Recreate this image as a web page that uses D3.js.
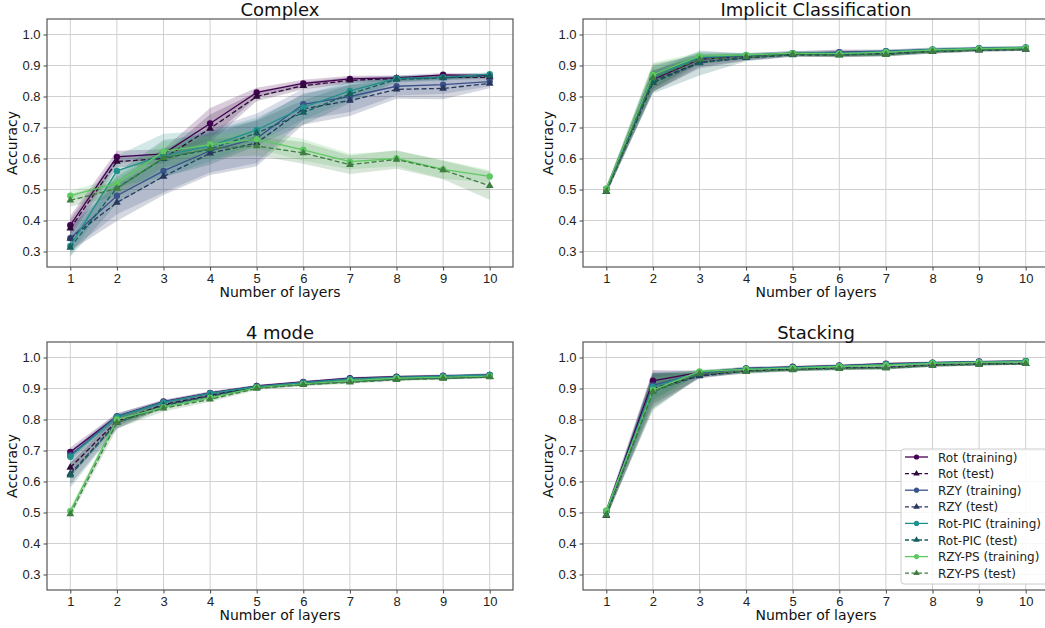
<!DOCTYPE html>
<html>
<head>
  <meta charset="utf-8" />
  <title>Accuracy vs number of layers</title>
  <script type="text/javascript" src="https://cdn.jsdelivr.net/npm/d3@7"></script>
  <style type="text/css">
  body {
    margin: 0;
    background: #fff;
    font-family: "DejaVu Sans", sans-serif;
  }
  .grid line { stroke: #d0d0d0; stroke-width: 1px; }
  .axis text { font-size: 13px; fill: #222; }
  .axis path, .axis line { stroke: #444; }
  .frame { fill: none; stroke: #555; stroke-width: 1.2px; }
  .title { font-size: 18px; fill: #111; }
  .label { font-size: 14px; fill: #111; }
  .legend text { font-size: 12px; fill: #222; }
  </style>
</head>
<body>
  <script type="text/javascript">
    var layers = [1, 2, 3, 4, 5, 6, 7, 8, 9, 10]
    var seriesNames = ['Rot (training)', 'Rot (test)', 'RZY (training)', 'RZY (test)',
      'Rot-PIC (training)', 'Rot-PIC (test)', 'RZY-PS (training)', 'RZY-PS (test)']
    var seriesColors = ['#440154', '#2e0a3a', '#3b528b', '#27375d',
      '#21918c', '#165f5c', '#5ec962', '#3e7f41']
    var yTicks = [0.3, 0.4, 0.5, 0.6, 0.7, 0.8, 0.9, 1.0]

    // mean accuracy, one row per series (same order as seriesNames)
    var complexMean = [
      [0.385, 0.605, 0.615, 0.713, 0.813, 0.842, 0.857, 0.860, 0.870, 0.868],
      [0.375, 0.590, 0.600, 0.697, 0.800, 0.835, 0.852, 0.858, 0.862, 0.862],
      [0.343, 0.480, 0.560, 0.625, 0.665, 0.775, 0.800, 0.833, 0.838, 0.848],
      [0.342, 0.458, 0.542, 0.617, 0.650, 0.760, 0.787, 0.823, 0.826, 0.842],
      [0.318, 0.560, 0.610, 0.640, 0.692, 0.765, 0.818, 0.858, 0.862, 0.872],
      [0.313, 0.505, 0.600, 0.630, 0.682, 0.748, 0.808, 0.855, 0.860, 0.866],
      [0.480, 0.520, 0.623, 0.645, 0.662, 0.628, 0.590, 0.600, 0.565, 0.542],
      [0.465, 0.503, 0.602, 0.632, 0.640, 0.618, 0.580, 0.597, 0.563, 0.512]
    ]
    var complexSd = [
      [0.030, 0.020, 0.015, 0.050, 0.015, 0.012, 0.010, 0.008, 0.006, 0.006],
      [0.030, 0.020, 0.015, 0.045, 0.015, 0.012, 0.010, 0.008, 0.006, 0.006],
      [0.040, 0.060, 0.070, 0.070, 0.080, 0.050, 0.050, 0.030, 0.030, 0.015],
      [0.040, 0.060, 0.060, 0.070, 0.075, 0.050, 0.050, 0.030, 0.035, 0.015],
      [0.030, 0.050, 0.070, 0.050, 0.040, 0.040, 0.030, 0.010, 0.008, 0.006],
      [0.030, 0.050, 0.060, 0.050, 0.040, 0.040, 0.030, 0.010, 0.008, 0.006],
      [0.015, 0.020, 0.030, 0.030, 0.030, 0.035, 0.025, 0.025, 0.030, 0.020],
      [0.020, 0.025, 0.030, 0.030, 0.030, 0.035, 0.030, 0.030, 0.030, 0.045]
    ]

    var implicitMean = [
      [0.500, 0.855, 0.920, 0.930, 0.940, 0.942, 0.945, 0.950, 0.955, 0.957],
      [0.493, 0.845, 0.910, 0.925, 0.935, 0.935, 0.937, 0.945, 0.950, 0.952],
      [0.502, 0.870, 0.925, 0.932, 0.940, 0.943, 0.946, 0.952, 0.956, 0.958],
      [0.493, 0.850, 0.910, 0.925, 0.935, 0.935, 0.937, 0.946, 0.950, 0.952],
      [0.501, 0.860, 0.928, 0.933, 0.940, 0.940, 0.945, 0.951, 0.955, 0.958],
      [0.493, 0.845, 0.908, 0.926, 0.934, 0.934, 0.936, 0.945, 0.950, 0.953],
      [0.503, 0.870, 0.930, 0.934, 0.940, 0.938, 0.943, 0.950, 0.954, 0.957],
      [0.494, 0.860, 0.920, 0.928, 0.936, 0.933, 0.935, 0.945, 0.950, 0.952]
    ]
    var implicitSd = [
      [0.008, 0.030, 0.012, 0.008, 0.006, 0.010, 0.006, 0.006, 0.005, 0.005],
      [0.008, 0.030, 0.015, 0.008, 0.006, 0.008, 0.006, 0.006, 0.005, 0.005],
      [0.008, 0.030, 0.012, 0.008, 0.006, 0.006, 0.006, 0.006, 0.005, 0.005],
      [0.008, 0.035, 0.020, 0.010, 0.006, 0.006, 0.006, 0.006, 0.005, 0.005],
      [0.008, 0.035, 0.015, 0.008, 0.006, 0.006, 0.006, 0.006, 0.005, 0.005],
      [0.008, 0.035, 0.040, 0.012, 0.006, 0.006, 0.006, 0.006, 0.005, 0.005],
      [0.008, 0.040, 0.012, 0.006, 0.006, 0.006, 0.006, 0.006, 0.005, 0.005],
      [0.008, 0.045, 0.015, 0.008, 0.006, 0.006, 0.006, 0.006, 0.005, 0.005]
    ]

    var modeMean = [
      [0.695, 0.810, 0.858, 0.886, 0.908, 0.921, 0.933, 0.938, 0.941, 0.944],
      [0.645, 0.795, 0.848, 0.878, 0.905, 0.916, 0.925, 0.932, 0.935, 0.939],
      [0.685, 0.810, 0.857, 0.885, 0.907, 0.920, 0.932, 0.937, 0.940, 0.944],
      [0.625, 0.790, 0.846, 0.876, 0.904, 0.915, 0.924, 0.931, 0.934, 0.938],
      [0.680, 0.808, 0.855, 0.884, 0.906, 0.919, 0.930, 0.936, 0.940, 0.944],
      [0.620, 0.790, 0.845, 0.875, 0.903, 0.914, 0.923, 0.930, 0.934, 0.938],
      [0.505, 0.800, 0.840, 0.870, 0.903, 0.915, 0.925, 0.933, 0.936, 0.940],
      [0.495, 0.790, 0.836, 0.865, 0.900, 0.912, 0.920, 0.928, 0.932, 0.937]
    ]
    var modeSd = [
      [0.015, 0.010, 0.006, 0.005, 0.004, 0.004, 0.004, 0.004, 0.004, 0.004],
      [0.030, 0.015, 0.008, 0.006, 0.005, 0.005, 0.005, 0.004, 0.004, 0.004],
      [0.015, 0.010, 0.006, 0.005, 0.004, 0.004, 0.004, 0.004, 0.004, 0.004],
      [0.035, 0.018, 0.008, 0.006, 0.005, 0.005, 0.005, 0.004, 0.004, 0.004],
      [0.015, 0.010, 0.006, 0.005, 0.004, 0.004, 0.004, 0.004, 0.004, 0.004],
      [0.040, 0.020, 0.008, 0.006, 0.005, 0.005, 0.005, 0.004, 0.004, 0.004],
      [0.010, 0.012, 0.008, 0.006, 0.005, 0.005, 0.005, 0.004, 0.004, 0.004],
      [0.010, 0.020, 0.010, 0.008, 0.005, 0.005, 0.005, 0.004, 0.004, 0.004]
    ]

    var stackMean = [
      [0.505, 0.925, 0.952, 0.965, 0.970, 0.974, 0.980, 0.983, 0.987, 0.988],
      [0.490, 0.900, 0.942, 0.957, 0.962, 0.966, 0.968, 0.976, 0.979, 0.981],
      [0.503, 0.910, 0.950, 0.964, 0.968, 0.973, 0.978, 0.982, 0.986, 0.988],
      [0.490, 0.895, 0.940, 0.956, 0.961, 0.965, 0.967, 0.975, 0.978, 0.980],
      [0.503, 0.905, 0.953, 0.964, 0.968, 0.973, 0.978, 0.983, 0.986, 0.989],
      [0.491, 0.890, 0.945, 0.955, 0.961, 0.965, 0.966, 0.975, 0.978, 0.981],
      [0.507, 0.895, 0.955, 0.962, 0.966, 0.971, 0.975, 0.981, 0.984, 0.986],
      [0.492, 0.890, 0.948, 0.955, 0.960, 0.964, 0.966, 0.974, 0.978, 0.980]
    ]
    var stackSd = [
      [0.008, 0.035, 0.006, 0.005, 0.004, 0.004, 0.004, 0.004, 0.003, 0.003],
      [0.008, 0.050, 0.008, 0.006, 0.005, 0.005, 0.005, 0.005, 0.004, 0.004],
      [0.008, 0.045, 0.006, 0.005, 0.004, 0.004, 0.004, 0.004, 0.003, 0.003],
      [0.008, 0.055, 0.008, 0.006, 0.005, 0.005, 0.005, 0.005, 0.004, 0.004],
      [0.008, 0.045, 0.006, 0.005, 0.004, 0.004, 0.004, 0.004, 0.003, 0.003],
      [0.008, 0.055, 0.008, 0.006, 0.005, 0.005, 0.005, 0.005, 0.004, 0.004],
      [0.008, 0.040, 0.006, 0.005, 0.004, 0.004, 0.004, 0.004, 0.003, 0.003],
      [0.008, 0.060, 0.010, 0.008, 0.005, 0.005, 0.005, 0.005, 0.004, 0.004]
    ]

    var panels = [
      { title: 'Complex', mean: complexMean, sd: complexSd, left: 47, top: 19 },
      { title: 'Implicit Classification', mean: implicitMean, sd: implicitSd, left: 583, top: 19 },
      { title: '4 mode', mean: modeMean, sd: modeSd, left: 47, top: 342 },
      { title: 'Stacking', mean: stackMean, sd: stackSd, left: 583, top: 342, legend: true }
    ]

    var W = 1045, H = 628,
        pw = 466, ph = 248

    var svg = d3.select(document.body)
      .append('svg')
      .attr('width', W)
      .attr('height', H)

    var x = d3.scaleLinear().domain([0.5, 10.5]).range([0, pw]),
        y = d3.scaleLinear().domain([0.25, 1.05]).range([ph, 0])

    var line = d3.line()
      .x(function(d, i) { return x(layers[i]) })
      .y(function(d) { return y(d) })

    var band = d3.area()
      .x(function(d) { return x(d.l) })
      .y0(function(d) { return y(d.m - d.s) })
      .y1(function(d) { return y(d.m + d.s) })

    var triangle = d3.symbol().type(d3.symbolTriangle).size(26)

    panels.forEach(function(p) {
      var g = svg.append('g')
        .attr('transform', 'translate(' + p.left + ',' + p.top + ')')

      g.append('defs').append('clipPath')
        .attr('id', 'clip-' + p.left + '-' + p.top)
      .append('rect')
        .attr('width', pw).attr('height', ph)

      // grid
      g.append('g').attr('class', 'grid')
        .selectAll('line.v').data(layers)
      .enter().append('line')
        .attr('x1', x).attr('x2', x)
        .attr('y1', 0).attr('y2', ph)
      g.append('g').attr('class', 'grid')
        .selectAll('line.h').data(yTicks)
      .enter().append('line')
        .attr('x1', 0).attr('x2', pw)
        .attr('y1', y).attr('y2', y)

      var plot = g.append('g')
        .attr('clip-path', 'url(#clip-' + p.left + '-' + p.top + ')')

      // std bands
      p.mean.forEach(function(row, k) {
        var pts = row.map(function(m, i) { return { l: layers[i], m: m, s: p.sd[k][i] } })
        plot.append('path')
          .attr('d', band(pts))
          .attr('fill', seriesColors[k])
          .attr('fill-opacity', 0.2)
          .attr('stroke', 'none')
      })

      // lines and markers
      p.mean.forEach(function(row, k) {
        var test = k % 2 === 1
        plot.append('path')
          .attr('d', line(row))
          .attr('fill', 'none')
          .attr('stroke', seriesColors[k])
          .attr('stroke-width', 1.3)
          .attr('stroke-dasharray', test ? '5,2.5' : null)

        if (test) {
          plot.selectAll('path.m' + k).data(row)
          .enter().append('path')
            .attr('class', 'm' + k)
            .attr('d', triangle)
            .attr('fill', seriesColors[k])
            .attr('transform', function(d, i) { return 'translate(' + x(layers[i]) + ',' + y(d) + ')' })
        } else {
          plot.selectAll('circle.m' + k).data(row)
          .enter().append('circle')
            .attr('class', 'm' + k)
            .attr('r', 3.2)
            .attr('fill', seriesColors[k])
            .attr('cx', function(d, i) { return x(layers[i]) })
            .attr('cy', y)
        }
      })

      // axes
      g.append('g').attr('class', 'axis')
        .attr('transform', 'translate(0,' + ph + ')')
        .call(d3.axisBottom(x).tickValues(layers).tickSize(3.5).tickFormat(d3.format('d')))
        .call(function(a) { a.select('.domain').remove() })
      g.append('g').attr('class', 'axis')
        .call(d3.axisLeft(y).tickValues(yTicks).tickSize(3.5).tickFormat(d3.format('.1f')))
        .call(function(a) { a.select('.domain').remove() })

      g.append('rect').attr('class', 'frame')
        .attr('width', pw).attr('height', ph)

      g.append('text').attr('class', 'title')
        .attr('x', pw / 2).attr('y', -3.5)
        .attr('text-anchor', 'middle')
        .text(p.title)

      g.append('text').attr('class', 'label')
        .attr('x', pw / 2).attr('y', ph + 30)
        .attr('text-anchor', 'middle')
        .text('Number of layers')

      g.append('text').attr('class', 'label')
        .attr('transform', 'translate(-30,' + (ph / 2) + ') rotate(-90)')
        .attr('text-anchor', 'middle')
        .text('Accuracy')

      if (p.legend) {
        var lg = g.append('g').attr('class', 'legend')
          .attr('transform', 'translate(318,107)')
        lg.append('rect')
          .attr('width', 150).attr('height', 135)
          .attr('rx', 3)
          .attr('fill', '#fff').attr('fill-opacity', 0.85)
          .attr('stroke', '#ccc')
        seriesNames.forEach(function(name, k) {
          var ly = 8 + k * 16.6
          var row = lg.append('g').attr('transform', 'translate(0,' + ly + ')')
          row.append('line')
            .attr('x1', 4).attr('x2', 27)
            .attr('stroke', seriesColors[k])
            .attr('stroke-width', 1.3)
            .attr('stroke-dasharray', k % 2 ? '4,2.5' : null)
          if (k % 2) {
            row.append('path').attr('d', d3.symbol().type(d3.symbolTriangle).size(18))
              .attr('transform', 'translate(15.5,0)')
              .attr('fill', seriesColors[k])
          } else {
            row.append('circle').attr('cx', 15.5).attr('r', 2.6)
              .attr('fill', seriesColors[k])
          }
          row.append('text')
            .attr('x', 37).attr('y', 4.5)
            .text(name)
        })
      }
    })
  </script>
</body>
</html>
